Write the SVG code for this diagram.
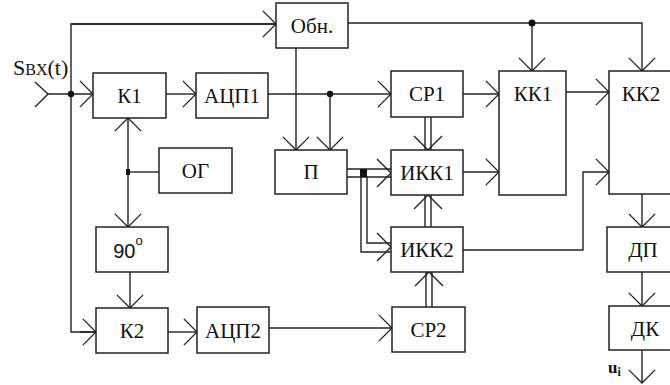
<svg xmlns="http://www.w3.org/2000/svg" width="670" height="385" viewBox="0 0 670 385" font-family="'Liberation Serif', 'DejaVu Serif', serif">
<defs>
<marker id="ch" markerUnits="userSpaceOnUse" markerWidth="30" markerHeight="30" viewBox="-16 -16 32 32" refX="0" refY="0" orient="auto" overflow="visible">
<path d="M -14 -14 L 0 0 L -14 14" fill="none" stroke="#222" stroke-width="1.4"/>
</marker>
</defs>
<style>
rect.b{fill:#fff;stroke:#222;stroke-width:1.5}
text.t{font-family:'Liberation Serif','DejaVu Serif',serif;font-size:21px;fill:#111;text-anchor:middle}
.c path,.c line,.c polyline{fill:none;stroke:#222;stroke-width:1.4}
.a{marker-end:url(#ch)}
.dot{fill:#111;stroke:none}
</style>
<rect width="670" height="385" fill="#fff"/>
<g class="c" id="connectors">
<polyline points="35,82 48,94 35,107"/>
<line class="a" x1="48" y1="94" x2="93" y2="94"/>
<polyline points="276,24 71,24 71,332 96,332"/>
<line class="a" x1="71" y1="24" x2="276" y2="24"/>
<line class="a" x1="80" y1="332" x2="96" y2="332"/>
<line class="a" x1="166" y1="94" x2="196" y2="94"/>
<line class="a" x1="268" y1="94" x2="391" y2="94"/>
<line class="a" x1="330" y1="94" x2="330" y2="150"/>
<line class="a" x1="296" y1="48" x2="296" y2="150"/>
<line x1="159" y1="172" x2="128" y2="172"/>
<line class="a" x1="128" y1="172" x2="128" y2="118"/>
<line class="a" x1="128" y1="172" x2="128" y2="227"/>
<line class="a" x1="130" y1="272" x2="130" y2="308"/>
<line class="a" x1="168" y1="332" x2="197" y2="332"/>
<line class="a" x1="269" y1="328" x2="392" y2="328"/>
<line x1="425" y1="117" x2="425" y2="150"/>
<line x1="431" y1="117" x2="431" y2="150"/>
<polyline points="414,136 428,150 442,136"/>
<line x1="425" y1="227" x2="425" y2="195"/>
<line x1="431" y1="227" x2="431" y2="195"/>
<polyline points="414,209 428,195 442,209"/>
<line x1="426" y1="307" x2="426" y2="272"/>
<line x1="432" y1="307" x2="432" y2="272"/>
<polyline points="415,286 429,272 443,286"/>
<line x1="347" y1="169" x2="391" y2="169"/>
<line x1="347" y1="177" x2="391" y2="177"/>
<polyline points="377,159 391,173 377,187"/>
<polyline points="361,177 361,252 391,252"/>
<polyline points="367,177 367,243 391,243"/>
<polyline points="377,233 391,247 377,261"/>
<line class="a" x1="463" y1="94" x2="499" y2="94"/>
<line class="a" x1="463" y1="172" x2="499" y2="172"/>
<line class="a" x1="566" y1="92" x2="609" y2="92"/>
<polyline class="a" points="463,250 583,250 583,172 609,172"/>
<polyline class="a" points="348,23 642,23 642,71"/>
<line class="a" x1="532" y1="23" x2="532" y2="71"/>
<line class="a" x1="642" y1="194" x2="642" y2="227"/>
<line class="a" x1="642" y1="272" x2="642" y2="306"/>
<line class="a" x1="642" y1="350" x2="642" y2="383"/>
<circle class="dot" cx="71" cy="94" r="3.2"/>
<circle class="dot" cx="330" cy="94" r="3.2"/>
<circle class="dot" cx="532" cy="23" r="3.5"/>
<rect class="dot" x="126" y="169" width="4" height="6"/>
<rect class="dot" x="360" y="169" width="7" height="8"/>
</g>
<g id="input-label">
<text x="13" y="75" font-family="'Liberation Serif', 'DejaVu Serif', serif" font-size="22" fill="#111">S<tspan font-size="16">BX</tspan>(t)</text>
</g>
<g id="obn"><rect class="b" x="276" y="3" width="72" height="45"/><text class="t" x="312" y="33">Обн.</text></g>
<g id="k1"><rect class="b" x="93" y="73" width="73" height="45"/><text class="t" x="129.5" y="103">К1</text></g>
<g id="adc1"><rect class="b" x="196" y="73" width="72" height="45"/><text class="t" x="232" y="103">АЦП1</text></g>
<g id="og"><rect class="b" x="159" y="148" width="73" height="45"/><text class="t" x="195.5" y="178">ОГ</text></g>
<g id="p"><rect class="b" x="275" y="150" width="72" height="44"/><text class="t" x="311" y="179">П</text></g>
<g id="ph90"><rect class="b" x="96" y="227" width="72" height="45"/><text x="128" y="258" font-family="'Liberation Sans', Arial, sans-serif" font-size="20" fill="#111" text-anchor="middle">90<tspan dy="-13" font-size="13">o</tspan></text></g>
<g id="k2"><rect class="b" x="96" y="308" width="72" height="45"/><text class="t" x="132" y="338">К2</text></g>
<g id="adc2"><rect class="b" x="197" y="307" width="72" height="46"/><text class="t" x="233" y="338">АЦП2</text></g>
<g id="sr1"><rect class="b" x="391" y="71" width="72" height="46"/><text class="t" x="427" y="101">СР1</text></g>
<g id="ikk1"><rect class="b" x="391" y="150" width="72" height="45"/><text class="t" x="427" y="180">ИКК1</text></g>
<g id="ikk2"><rect class="b" x="391" y="227" width="72" height="45"/><text class="t" x="427" y="257">ИКК2</text></g>
<g id="sr2"><rect class="b" x="392" y="307" width="73" height="45"/><text class="t" x="428.5" y="337">СР2</text></g>
<g id="kk1"><rect class="b" x="499" y="71" width="67" height="124"/><text class="t" x="533" y="101">КК1</text></g>
<g id="kk2"><rect class="b" x="609" y="71" width="72" height="123"/><text class="t" x="641" y="101">КК2</text></g>
<g id="dp"><rect class="b" x="607" y="227" width="72" height="45"/><text class="t" x="643" y="257">ДП</text></g>
<g id="dk"><rect class="b" x="609" y="306" width="72" height="44"/><text class="t" x="645" y="336">ДК</text></g>
<g id="output-label">
<text x="608" y="373" font-family="'Liberation Serif', 'DejaVu Serif', serif" font-size="17" font-weight="bold" fill="#111">u<tspan dy="3" font-size="12">i</tspan></text>
</g>
</svg>
